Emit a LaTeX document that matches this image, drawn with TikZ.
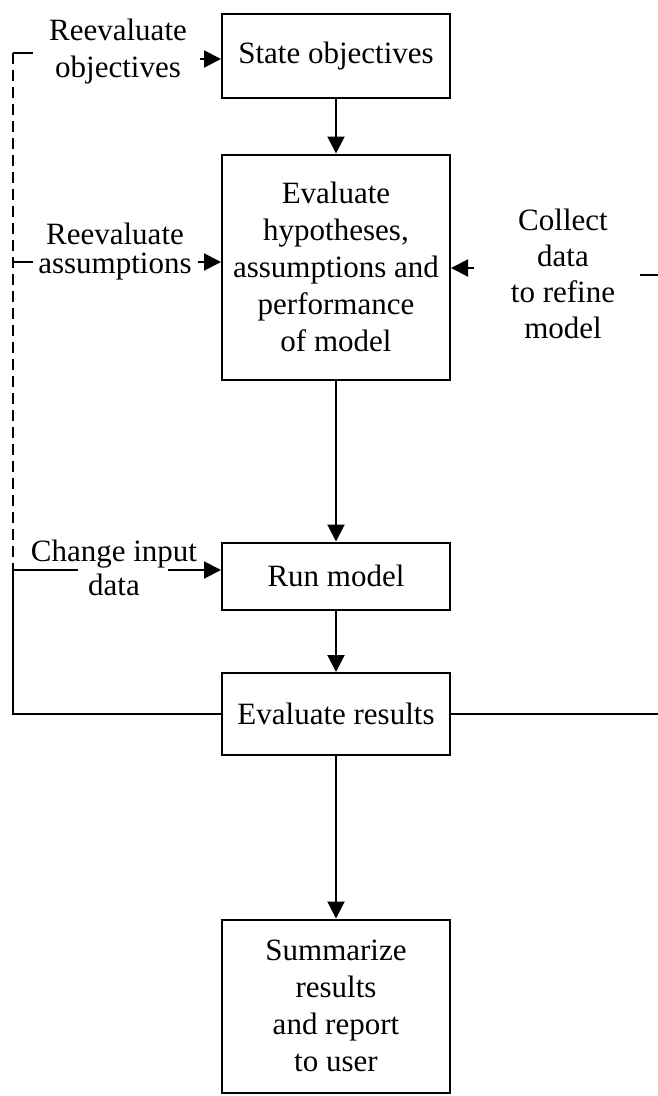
\documentclass[tikz,border=0pt]{standalone}
\usepackage{fontspec}
\setmainfont{Liberation Serif}
\usetikzlibrary{arrows.meta, positioning}

\begin{document}
\begin{tikzpicture}[x=1pt, y=-1pt,
  box/.style={draw, line width=2pt, minimum width=228pt, align=center, inner sep=0pt, font=\fontsize{31}{37}\selectfont},
  lbl/.style={align=center, inner sep=0pt, font=\fontsize{31}{37}\selectfont},
  ln/.style={line width=2pt},
  arr/.style={line width=2pt, -{Triangle[length=17pt, width=17pt]}}]
  \useasboundingbox (0,0) rectangle (658,1096);

  % main column
  \node[box, minimum height=84pt] (state) at (336,56) {State objectives};
  \node[box, minimum height=225pt] (evalhyp) at (336,267) {Evaluate\\hypotheses,\\assumptions and\\performance\\of model};
  \node[box, minimum height=67pt] (run) at (336,576) {Run model};
  \node[box, minimum height=82pt] (evalres) at (336,714) {Evaluate results};
  \node[box, minimum height=173pt] (summ) at (336,1006) {Summarize\\results\\and report\\to user};

  \draw[arr] (state) -- (evalhyp);
  \draw[arr] (evalhyp) -- (run);
  \draw[arr] (run) -- (evalres);
  \draw[arr] (evalres) -- (summ);

  % feedback labels
  \node[lbl] (reobj) at (118,52) {Reevaluate\\objectives};
  \node[lbl, font=\fontsize{31}{29}\selectfont] (reass) at (115,252) {Reevaluate\\assumptions};
  \node[lbl, font=\fontsize{31}{34}\selectfont] (chg) at (114,568) {Change input\\data};
  \node[lbl, font=\fontsize{31}{36}\selectfont] (collect) at (563,274) {Collect\\data\\to refine\\model};

  % left return line
  \coordinate (objhook) at (33,53);
  \coordinate (spinetop) at (13,53);
  \coordinate (asshook) at (33,262);
  \coordinate (assjoin) at (13,262);
  \coordinate (chgjoin) at (13,570);
  \coordinate (chgend) at (78,570);
  \coordinate (chgstart) at (168,570);
  \coordinate (spinebot) at (13,714);
  \coordinate (objarr) at (200,59);
  \coordinate (assarr) at (198,262);
  \coordinate (colarr) at (474,268);
  \coordinate (tickL) at (640,275);
  \coordinate (tickR) at (658,275);
  \coordinate (rightend) at (658,714);

  \draw[ln] (objhook) -- (spinetop);
  \draw[ln, line width=1.4pt, dash pattern=on 11pt off 6pt] (spinetop) -- (chgjoin);
  \draw[ln] (asshook) -- (assjoin);
  \draw[ln] (chgjoin) -- (chgend);
  \draw[ln] (chgjoin) -- (spinebot) -- (evalres.west);

  \draw[arr] (objarr) -- (objarr -| state.west);
  \draw[arr] (assarr) -- (assarr -| evalhyp.west);
  \draw[arr] (chgstart) -- (chgstart -| run.west);
  \draw[arr] (colarr) -- (colarr -| evalhyp.east);

  % right return line
  \draw[ln] (tickL) -- (tickR);
  \draw[ln] (evalres.east) -- (rightend);
\end{tikzpicture}
\end{document}
